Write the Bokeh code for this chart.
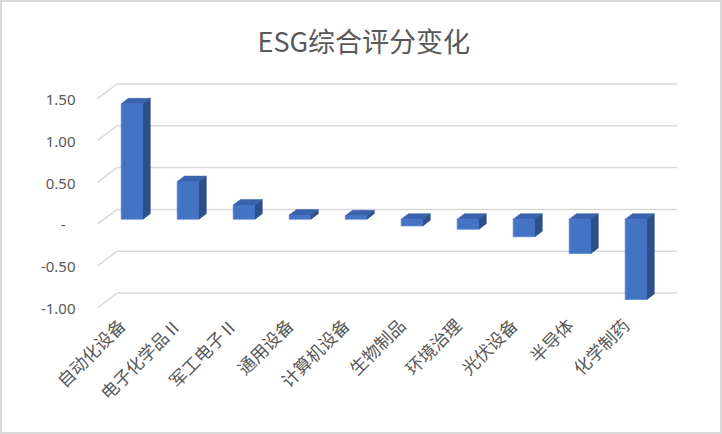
import math
from bokeh.plotting import figure
from bokeh.models import Range1d, LinearAxis, FixedTicker, CustomJSTickFormatter
from bokeh.embed import file_html
from bokeh.resources import INLINE

# ---- data ----
categories = ["自动化设备", "电子化学品Ⅱ", "军工电子Ⅱ", "通用设备", "计算机设备",
              "生物制品", "环境治理", "光伏设备", "半导体", "化学制药"]
values = [1.38, 0.45, 0.17, 0.05, 0.04, -0.08, -0.12, -0.21, -0.41, -0.96]
y_ticks = [-1.0, -0.5, 0.0, 0.5, 1.0, 1.5]
y_tick_labels = ["-1.00", "-0.50", "-\u2002\u2009", "0.50", "1.00", "1.50"]
title_text = "ESG综合评分变化"

# ---- pseudo-3D geometry (style constants, data units) ----
BAR_W = 0.39
BAR_DX, BAR_DY = 0.13, 0.066          # bar depth
FRONT_DX, FRONT_DY = -0.125, -0.062   # front plane offset from bar plane
BACK_DX, BACK_DY = 0.232, 0.117       # back wall offset from bar plane
LABEL_SHIFT = 0.19                    # category labels sit slightly left of bar centres

X0, X1 = -0.118, 10.239
Y0, Y1 = -1.092, 1.659

FRONT = "#4472C4"
TOP = "#3A63AE"
SIDE = "#2E4F8C"
GRID = "#d9d9d9"
TXT = "#595959"

n = len(categories)
xc = [i + 0.5 for i in range(n)]
bottoms = [min(v, 0) for v in values]
tops = [max(v, 0) for v in values]

p = figure(width=722, height=434, output_backend="svg", toolbar_location=None,
           x_range=Range1d(X0, X1), y_range=Range1d(Y0, Y1),
           min_border_left=97, min_border_right=45, min_border_top=80, min_border_bottom=124,
           title=title_text)
p.styles = {"background-color": "white", "box-shadow": "inset 0 0 0 2px #d9d9d9"}
p.border_fill_color = None
p.background_fill_color = None
p.outline_line_color = None
p.grid.visible = False

p.title.align = "left"
p.title.offset = 160
p.title.vertical_align = "top"
p.title.standoff = 38
p.title.text_font = "Noto Sans CJK SC"
p.title.text_font_size = "27px"
p.title.text_font_style = "normal"
p.title.text_color = TXT

# back wall gridlines
p.segment(x0=[BACK_DX] * len(y_ticks), x1=[n + BACK_DX] * len(y_ticks),
          y0=[t + BACK_DY for t in y_ticks], y1=[t + BACK_DY for t in y_ticks],
          line_color=GRID, line_width=1.5)
# side wall diagonals
p.segment(x0=[FRONT_DX] * len(y_ticks), x1=[BACK_DX] * len(y_ticks),
          y0=[t + FRONT_DY for t in y_ticks], y1=[t + BACK_DY for t in y_ticks],
          line_color=GRID, line_width=1.5)

# bars: front faces
p.vbar(x=xc, width=BAR_W, bottom=bottoms, top=tops, fill_color=FRONT,
       line_color="#5B8AD8", line_width=0.8)
# top and side faces
top_xs, top_ys, side_xs, side_ys = [], [], [], []
for c, b, t in zip(xc, bottoms, tops):
    xl, xr = c - BAR_W / 2, c + BAR_W / 2
    top_xs.append([xl, xr, xr + BAR_DX, xl + BAR_DX])
    top_ys.append([t, t, t + BAR_DY, t + BAR_DY])
    side_xs.append([xr, xr + BAR_DX, xr + BAR_DX, xr])
    side_ys.append([b, b + BAR_DY, t + BAR_DY, t])
p.patches(xs=top_xs, ys=top_ys, fill_color=TOP, line_color=TOP, line_width=0.5)
p.patches(xs=side_xs, ys=side_ys, fill_color=SIDE, line_color=SIDE, line_width=0.5)

# x axis (categories) on a slightly shifted range
p.xaxis.visible = False
p.extra_x_ranges = {"lab": Range1d(X0 + LABEL_SHIFT, X1 + LABEL_SHIFT)}
xax = LinearAxis(x_range_name="lab")
xax.ticker = FixedTicker(ticks=xc)
xax.formatter = CustomJSTickFormatter(args=dict(labels=categories),
                                      code="return labels[Math.floor(tick)];")
xax.major_label_orientation = math.pi / 4
xax.axis_line_color = None
xax.major_tick_line_color = None
xax.minor_tick_line_color = None
xax.major_label_standoff = 5
xax.major_label_text_font = "Noto Sans CJK SC"
xax.major_label_text_font_size = "17.5px"
xax.major_label_text_color = TXT
p.add_layout(xax, "below")

# y axis on the front plane
p.yaxis.visible = False
p.extra_y_ranges = {"front": Range1d(Y0 - FRONT_DY, Y1 - FRONT_DY)}
yax = LinearAxis(y_range_name="front")
yax.ticker = FixedTicker(ticks=y_ticks)
yax.formatter = CustomJSTickFormatter(
    args=dict(vals=y_ticks, labels=y_tick_labels),
    code="let b=0,d=1e9;for(let i=0;i<vals.length;i++){const e=Math.abs(vals[i]-tick);if(e<d){d=e;b=i}}return labels[b];")
yax.axis_line_color = None
yax.major_tick_line_color = None
yax.minor_tick_line_color = None
yax.major_label_standoff = 16
yax.major_label_text_font = "Noto Sans"
yax.major_label_text_font_size = "15px"
yax.major_label_text_color = TXT
p.add_layout(yax, "left")

open("out.html", "w").write(file_html(p, INLINE))
